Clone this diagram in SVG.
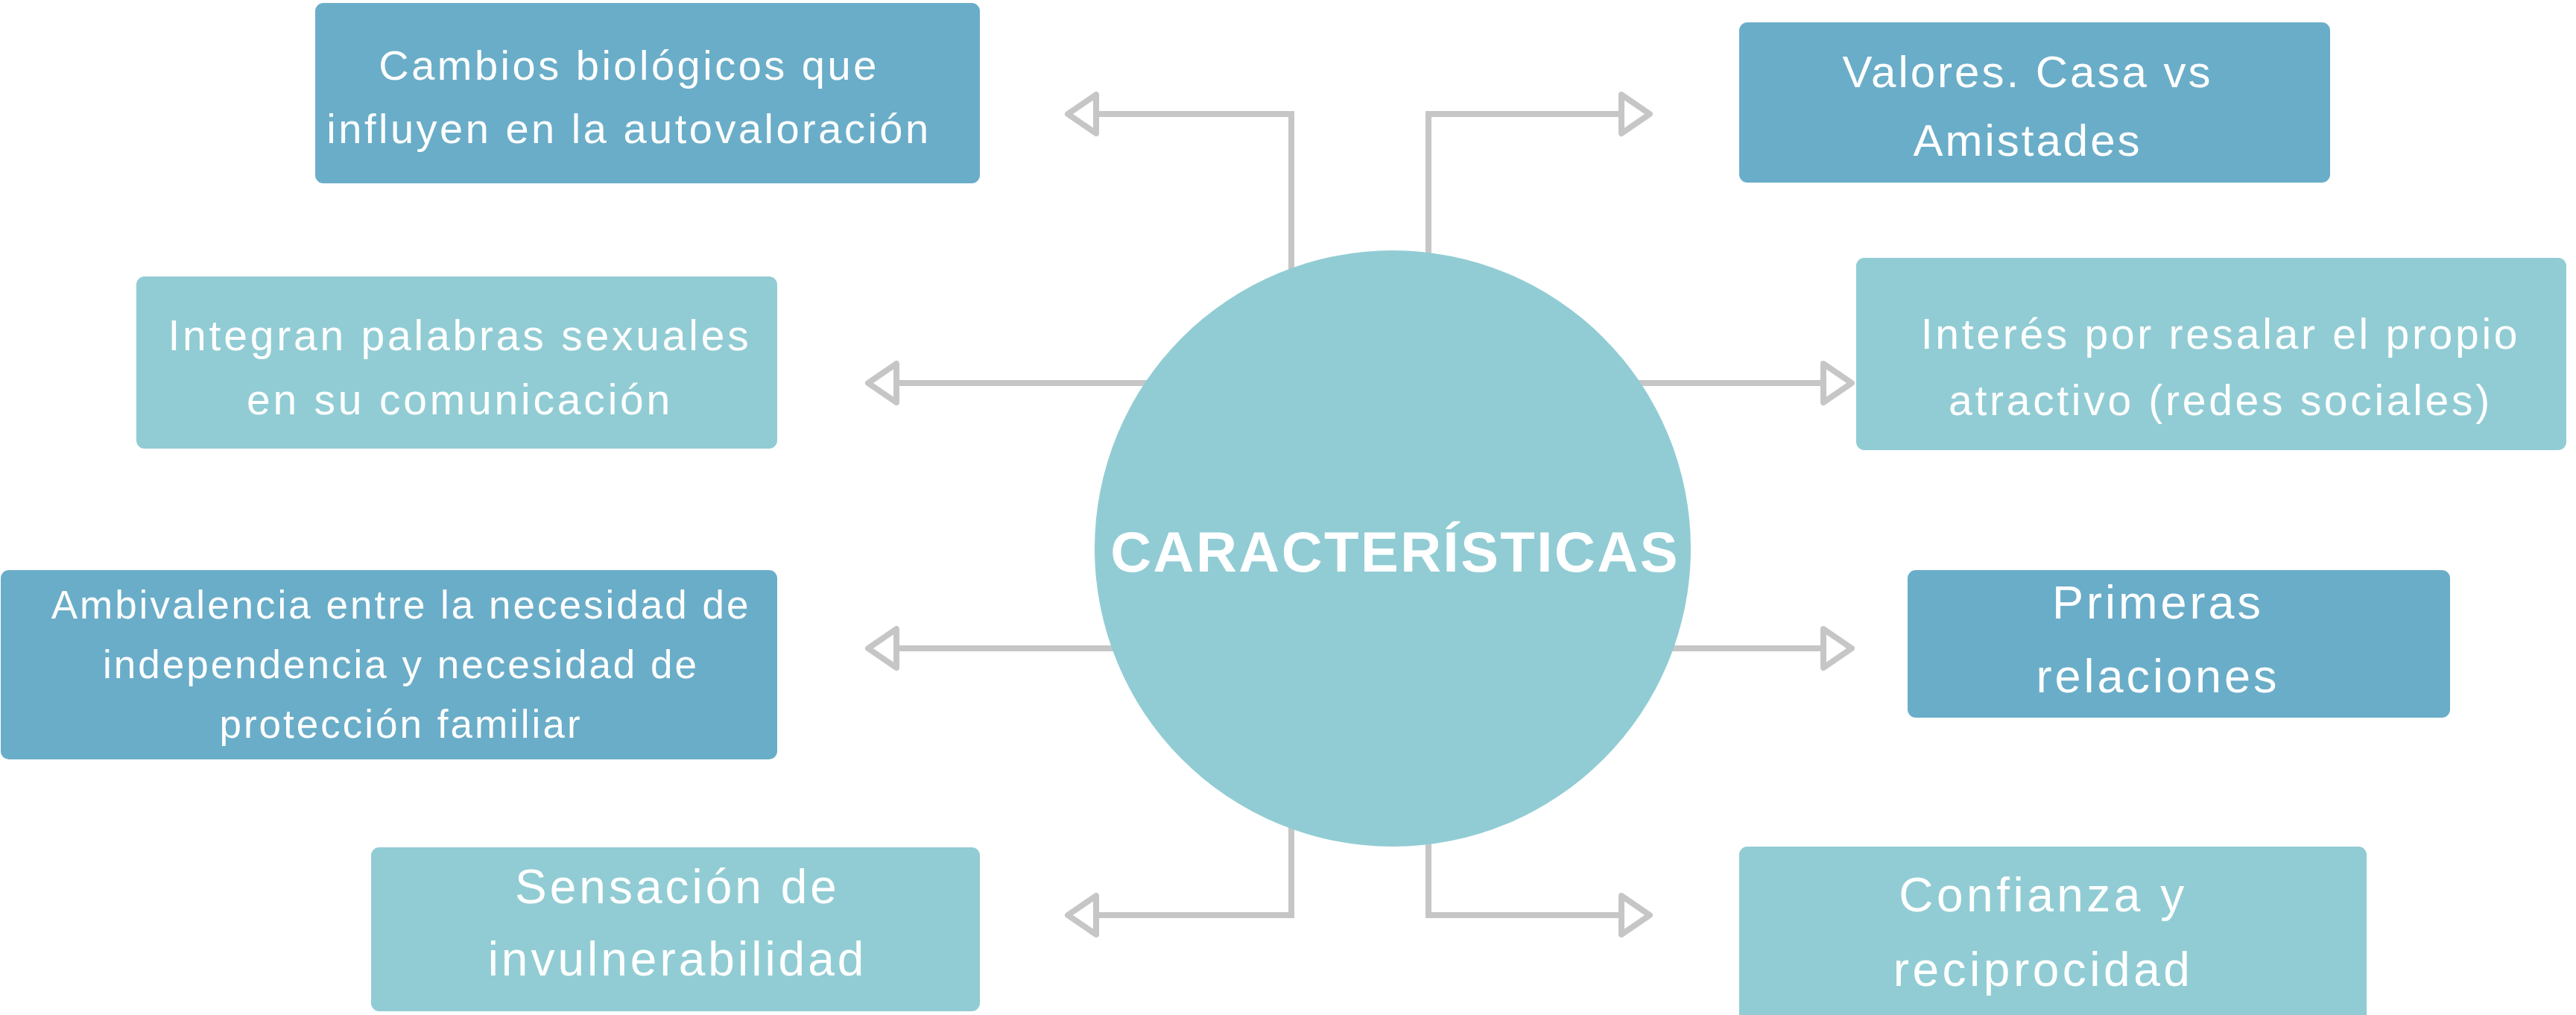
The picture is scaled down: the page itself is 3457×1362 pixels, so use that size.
<svg xmlns="http://www.w3.org/2000/svg" width="3457" height="1362" viewBox="0 0 3457 1362">
<style>
  .dark { fill: #6AADC8; }
  .light { fill: #91CCD4; }
  .conn { fill: none; stroke: #C6C6C6; stroke-width: 8; stroke-linejoin: miter; }
  .lbl { font-family: "Liberation Sans", Arial, sans-serif; fill: #FFFFFF; text-anchor: middle; }
  .title { font-family: "Liberation Sans", Arial, sans-serif; font-weight: bold; fill: #FFFFFF; text-anchor: middle; }
</style>
<defs>
  <marker id="arrow" markerUnits="userSpaceOnUse" viewBox="-8 -34 52 68" markerWidth="52" markerHeight="68" refX="0" refY="0" orient="auto" style="overflow:visible">
    <path d="M0,-26 L38,0 L0,26 Z" fill="#FFFFFF" stroke="#C6C6C6" stroke-width="8" stroke-linejoin="round"/>
  </marker>
</defs>
<rect width="3457" height="1362" fill="#FFFFFF"/>

<g id="connectors">
  <path class="conn" marker-end="url(#arrow)" d="M1733,560 V153 H1471"/>
  <path class="conn" marker-end="url(#arrow)" d="M1917,560 V153 H2176"/>
  <path class="conn" marker-end="url(#arrow)" d="M1700,514 H1203"/>
  <path class="conn" marker-end="url(#arrow)" d="M1700,870 H1203"/>
  <path class="conn" marker-end="url(#arrow)" d="M1733,900 V1228 H1471"/>
  <path class="conn" marker-end="url(#arrow)" d="M1917,900 V1228 H2176"/>
  <path class="conn" marker-end="url(#arrow)" d="M2050,514 H2447"/>
  <path class="conn" marker-end="url(#arrow)" d="M2050,870 H2447"/>
</g>

<g id="center">
  <circle cx="1869" cy="736" r="400" class="light"/>
  <text class="title" x="1872" y="767" font-size="76" letter-spacing="2.5">CARACTERÍSTICAS</text>
</g>

<g id="node-cambios">
  <rect x="423" y="4" width="892" height="242" rx="11" class="dark"/>
  <text class="lbl" font-size="56" letter-spacing="3.5"><tspan x="844" y="107">Cambios biológicos que</tspan><tspan x="844" y="192">influyen en la autovaloración</tspan></text>
</g>

<g id="node-integran">
  <rect x="183" y="371" width="860" height="231" rx="11" class="light"/>
  <text class="lbl" font-size="57" letter-spacing="3.8"><tspan x="617" y="470">Integran palabras sexuales</tspan><tspan x="617" y="556">en su comunicación</tspan></text>
</g>

<g id="node-ambivalencia">
  <rect x="1" y="765" width="1042" height="254" rx="11" class="dark"/>
  <text class="lbl" font-size="53" letter-spacing="3"><tspan x="538" y="830">Ambivalencia entre la necesidad de</tspan><tspan x="538" y="910">independencia y necesidad de</tspan><tspan x="538" y="990">protección familiar</tspan></text>
</g>

<g id="node-sensacion">
  <rect x="498" y="1137" width="817" height="220" rx="11" class="light"/>
  <text class="lbl" font-size="64" letter-spacing="4"><tspan x="909" y="1212">Sensación de</tspan><tspan x="909" y="1309">invulnerabilidad</tspan></text>
</g>

<g id="node-valores">
  <rect x="2334" y="30" width="793" height="215" rx="11" class="dark"/>
  <text class="lbl" font-size="60" letter-spacing="3"><tspan x="2721" y="117">Valores. Casa vs</tspan><tspan x="2721" y="209">Amistades</tspan></text>
</g>

<g id="node-interes">
  <rect x="2491" y="346" width="953" height="258" rx="11" class="light"/>
  <text class="lbl" font-size="57" letter-spacing="3.7"><tspan x="2980" y="468">Interés por resalar el propio</tspan><tspan x="2980" y="557">atractivo (redes sociales)</tspan></text>
</g>

<g id="node-primeras">
  <rect x="2560" y="765" width="728" height="198" rx="11" class="dark"/>
  <text class="lbl" font-size="63" letter-spacing="4"><tspan x="2896" y="830">Primeras</tspan><tspan x="2896" y="929">relaciones</tspan></text>
</g>

<g id="node-confianza">
  <rect x="2334" y="1136" width="842" height="236" rx="11" class="light"/>
  <text class="lbl" font-size="64" letter-spacing="4.5"><tspan x="2742" y="1223">Confianza y</tspan><tspan x="2742" y="1323">reciprocidad</tspan></text>
</g>
</svg>
